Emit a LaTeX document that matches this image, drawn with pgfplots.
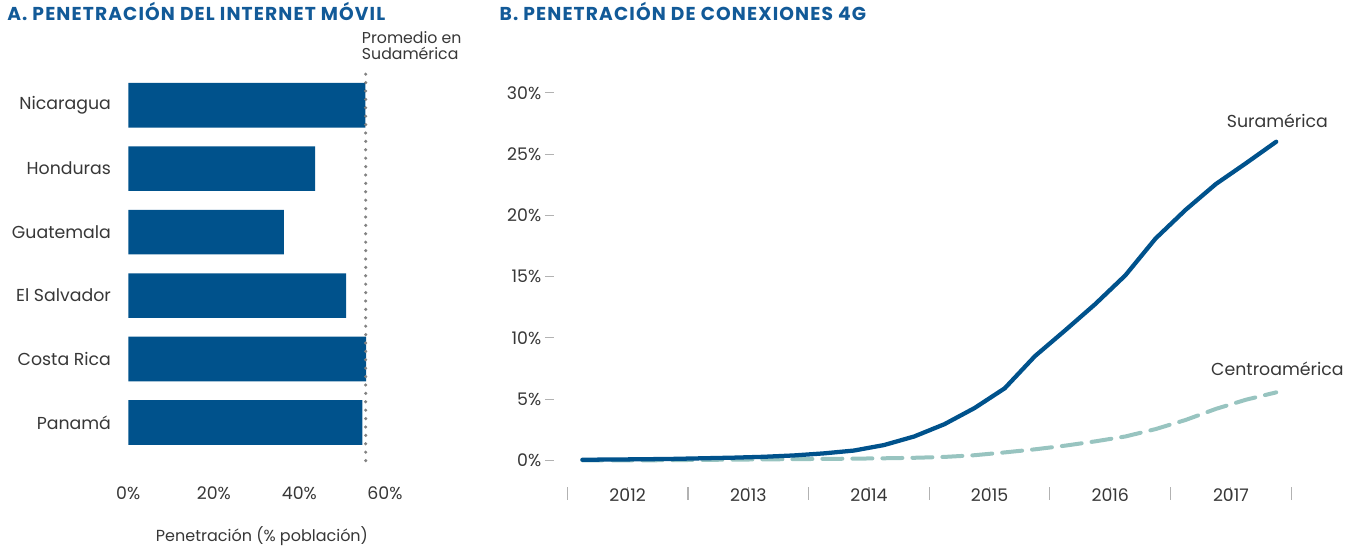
\documentclass[border=0pt]{standalone}
\usepackage{fontspec}
\setmainfont{Poppins}
\usepackage{pgfplots}
\pgfplotsset{compat=1.18}
\definecolor{barblue}{RGB}{0,82,140}
\definecolor{titleblue}{RGB}{18,90,152}
\definecolor{txt}{RGB}{55,55,55}
\definecolor{tealc}{RGB}{152,196,192}
\definecolor{dotgray}{RGB}{130,130,130}
\newcommand\lbl{\fontsize{13}{15.6}\selectfont}
\newcommand\ttl{\fontsize{14}{16}\selectfont\bfseries\addfontfeatures{LetterSpace=6}}
\begin{document}
\begin{tikzpicture}
\path[use as bounding box] (0,0) rectangle (1021.5pt,411pt);
\node[anchor=base west, inner sep=0, text=titleblue, font=\ttl] at (5.25pt,395.5pt) {A. PENETRACIÓN DEL INTERNET MÓVIL};
\node[anchor=base west, inner sep=0, text=titleblue, font=\ttl] at (374.5pt,395.5pt) {B. PENETRACIÓN DE CONEXIONES 4G};

% Panel A
\begin{axis}[
  at={(96.2pt,65.55pt)}, anchor=south west,
  scale only axis, width=192.5pt, height=295.1pt,
  xmin=0, xmax=60, ymin=-0.6, ymax=5.6,
  axis line style={draw=none}, tick style={draw=none}, major tick length=0pt,
  xtick={0,20,40,60}, xticklabels={0\%,20\%,40\%,60\%},
  ytick={0,1,2,3,4,5},
  yticklabels={Panamá,Costa Rica,El Salvador,Guatemala,Honduras,Nicaragua},
  ticklabel style={font=\lbl, text=txt},
  xticklabel style={yshift=-16pt},
  yticklabel style={xshift=-9.5pt},
  xlabel={Penetración (\% población)},
  xlabel style={at={(axis description cs:0.521,0)}, anchor=center, yshift=-57pt, font=\fontsize{12}{14}\selectfont, text=txt},
  clip=false,
]
\addplot[xbar, bar width=33.5pt, fill=barblue, draw=none] coordinates {
  (54.7,0) (55.6,1) (50.9,2) (36.4,3) (43.7,4) (55.4,5)};
\addplot[dotgray, line width=2.6pt, line cap=round, dash pattern=on 0pt off 6.3pt] coordinates {(55.5,-0.6) (55.5,5.6)};
\node[anchor=base west, inner sep=0, font=\fontsize{11.8}{14}\selectfont, text=txt] at (axis cs:55.5,5.6) [xshift=-3pt, yshift=17.85pt] {Promedio en};
\node[anchor=base west, inner sep=0, font=\fontsize{11.8}{14}\selectfont, text=txt] at (axis cs:55.5,5.6) [xshift=-3pt, yshift=5.85pt] {Sudamérica};
\end{axis}

% Panel B
\begin{axis}[
  at={(415.7pt,45.5pt)}, anchor=south west,
  scale only axis, width=552.75pt, height=295.95pt,
  xmin=2011.892, xmax=2018, ymin=-2.2, ymax=30,
  axis line style={draw=none},
  tick pos=left, tick align=outside,
  ytick={0,5,10,15,20,25,30},
  yticklabels={0\%,5\%,10\%,15\%,20\%,25\%,30\%},
  ytick style={draw=gray!60, line width=0.7pt, /pgfplots/major tick length=7pt},
  yticklabel style={xshift=-2pt},
  xtick={2012,2013,2014,2015,2016,2017,2018},
  xticklabels={},
  xtick style={draw=gray!60, line width=0.8pt, /pgfplots/major tick length=9.5pt},
  extra x ticks={2012.5,2013.5,2014.5,2015.5,2016.5,2017.5},
  extra x tick labels={2012,2013,2014,2015,2016,2017},
  extra x tick style={major tick length=0pt, xticklabel style={yshift=2.5pt}},
  ticklabel style={font=\lbl, text=txt},
  clip=false,
]
\addplot[tealc, line width=3pt, line cap=round, dash pattern=on 15pt off 7.5pt] coordinates {
  (2012.125,0.0) (2012.375,0.0) (2012.625,0.0) (2012.875,0.02)
  (2013.125,0.04) (2013.375,0.06) (2013.625,0.08) (2013.875,0.1)
  (2014.125,0.12) (2014.375,0.14) (2014.625,0.17) (2014.875,0.21)
  (2015.125,0.28) (2015.375,0.42) (2015.625,0.65) (2015.875,0.9)
  (2016.125,1.2) (2016.375,1.55) (2016.625,1.95) (2016.875,2.55)
  (2017.125,3.3) (2017.375,4.2) (2017.625,4.95) (2017.875,5.55)};
\addplot[barblue, line width=3.2pt, line cap=round, line join=round] coordinates {
  (2012.125,0.05) (2012.375,0.07) (2012.625,0.09) (2012.875,0.12)
  (2013.125,0.17) (2013.375,0.22) (2013.625,0.29) (2013.875,0.4)
  (2014.125,0.57) (2014.375,0.8) (2014.625,1.25) (2014.875,1.95)
  (2015.125,2.95) (2015.375,4.27) (2015.625,5.88) (2015.875,8.5)
  (2016.125,10.6) (2016.375,12.75) (2016.625,15.1) (2016.875,18.1)
  (2017.125,20.45) (2017.375,22.55) (2017.625,24.25) (2017.875,26.0)};
\node[font=\lbl, text=txt] at (axis cs:2017.885,27.72) {Suramérica};
\node[font=\lbl, text=txt] at (axis cs:2017.885,7.51) {Centroamérica};
\end{axis}
\end{tikzpicture}
\end{document}
